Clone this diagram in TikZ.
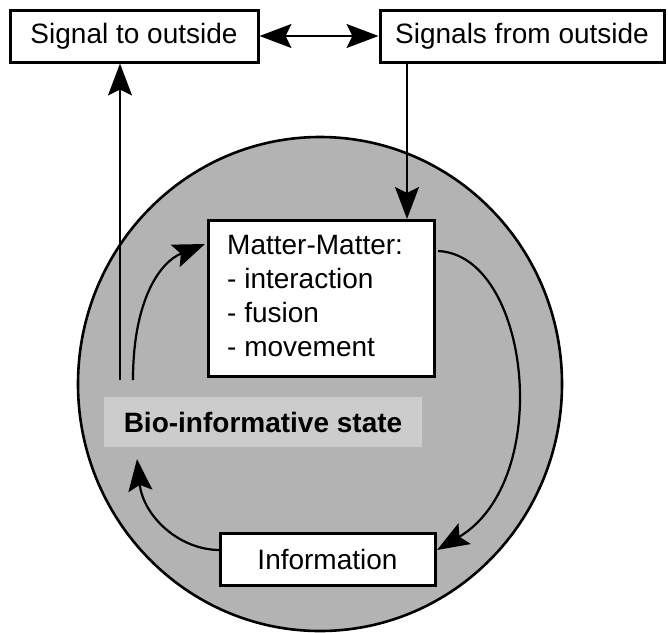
\documentclass[tikz,border=0pt]{standalone}
\usepackage{fontspec}
\setmainfont{Liberation Sans}
\usetikzlibrary{arrows.meta,shapes.geometric}
\definecolor{cellgray}{HTML}{B3B3B3}
\definecolor{biogray}{HTML}{CCCCCC}
\begin{document}
\begin{tikzpicture}[x=1pt,y=-1pt,
  every node/.style={font=\fontsize{28}{34}\selectfont},
  wbox/.style={draw=black,line width=3pt,fill=white,inner sep=0pt},
  tipA/.style={Stealth[length=32pt,width=24pt,inset=6pt]},
  conn/.style={line width=2.2pt,-{Stealth[length=32pt,width=24pt,inset=6pt]}},
  dconn/.style={line width=2.2pt,{Stealth[length=32pt,width=24pt,inset=6pt]}-{Stealth[length=32pt,width=24pt,inset=6pt]}}]
\useasboundingbox (0,0) rectangle (668,632);
% cell
\node[ellipse,draw=black,line width=2.6pt,fill=cellgray,inner sep=0pt,
  minimum width=484pt,minimum height=494pt] (cell) at (320,384) {};
% top boxes
\node[wbox,minimum width=248pt,minimum height=52pt] (sigout) at (134,36) {Signal to outside};
\node[wbox,minimum width=284pt,minimum height=52pt] (sigin) at (522,36) {Signals from outside};
% matter box
\node[wbox,minimum width=226pt,minimum height=156pt,anchor=north west] (matter) at (207,219) {};
\node[anchor=west,align=left,inner sep=0pt] (mattertext) at (227,296)
  {Matter-Matter:\\- interaction\\- fusion\\- movement};
% bio-informative state
\node[fill=biogray,inner sep=0pt,minimum width=318pt,minimum height=50pt,
  font=\fontsize{28}{34}\selectfont\bfseries] (bio) at (263,422) {Bio-informative state};
% information
\node[wbox,minimum width=215pt,minimum height=52pt] (info) at (327.5,559) {Information};
% coordinates
\coordinate (upstart) at (120,380);
\coordinate (dx) at (407,0);
\coordinate (bmstart) at (133,380);
\coordinate (bmend) at (205,244);
\coordinate (mistart) at (438,251);
\coordinate (miend) at (437,550);
\coordinate (ibstart) at (220,550);
\coordinate (ibend) at (137,459);
% connectors
\draw[dconn] (sigout.east) -- (sigin.west);
\draw[conn] (upstart) -- (upstart |- sigout.south);
\draw[conn] (sigin.south -| dx) -- (matter.north -| dx);
\draw[conn] (bmstart) .. controls (133,300) and (160,262) .. (bmend);
\draw[conn] (mistart) .. controls (530,255) and (555,480) .. (miend);
\draw[conn] (ibstart) .. controls (178,550) and (143,515) .. (ibend);
\end{tikzpicture}
\end{document}
